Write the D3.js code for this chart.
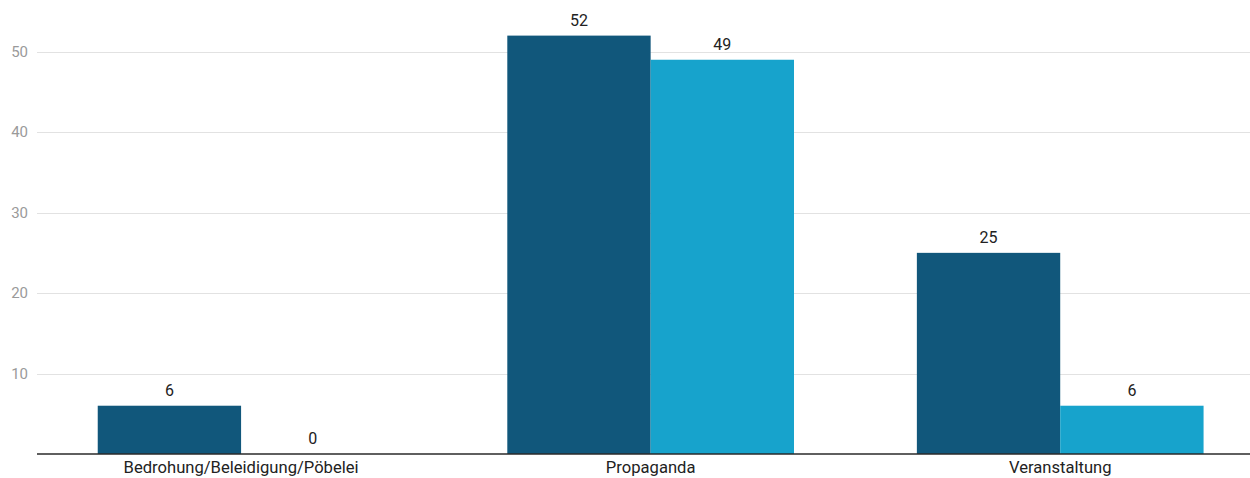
<!DOCTYPE html>
<html><head><meta charset="utf-8">
<script src="https://cdn.jsdelivr.net/npm/d3@7"></script>
<style>body{margin:0;background:#fff}svg{display:block}</style>
</head><body>
<svg id="c" width="1250" height="478"></svg>
<script>
const categories = ["Bedrohung/Beleidigung/Pöbelei", "Propaganda", "Veranstaltung"];
const seriesNames = ["A", "B"];
const seriesA = [6, 52, 25];
const seriesB = [0, 49, 6];
const yTicks = [10, 20, 30, 40, 50];
const colors = ["#11577b", "#17a3cc"];

const svg = d3.select("#c");
const W = 1250, H = 478;
const y = d3.scaleLinear().domain([0, 50]).range([454, 51.7]);
const x0 = d3.scaleBand().domain(categories).range([36.3, 1265]).paddingInner(0.3).paddingOuter(0.15);
const x1 = d3.scaleBand().domain(seriesNames).range([0, x0.bandwidth()]);

const data = categories.map((c, i) => ({cat: c, vals: [seriesA[i], seriesB[i]]}));

// grid
svg.append("g").selectAll("line").data(yTicks).join("line")
  .attr("x1", 37).attr("x2", W)
  .attr("y1", d => Math.round(y(d)) + 0.5).attr("y2", d => Math.round(y(d)) + 0.5)
  .attr("stroke", "#e2e2e2").attr("stroke-width", 1);

const yAxis = svg.append("g").attr("transform", "translate(37,0)")
  .call(d3.axisLeft(y).tickValues(yTicks).tickSize(0).tickPadding(9));
yAxis.select(".domain").remove();
yAxis.selectAll("text").attr("font-family", "Roboto").attr("font-size", 15).attr("fill", "#9a9a9a");

// bars
const g = svg.append("g").selectAll("g").data(data).join("g")
  .attr("transform", d => `translate(${x0(d.cat)},0)`);
g.selectAll("rect").data(d => d.vals.map((v, i) => ({s: seriesNames[i], v, i}))).join("rect")
  .attr("x", d => x1(d.s)).attr("width", x1.bandwidth())
  .attr("y", d => y(d.v)).attr("height", d => y(0) - y(d.v))
  .attr("fill", d => colors[d.i]);
g.selectAll("text").data(d => d.vals.map((v, i) => ({s: seriesNames[i], v, i}))).join("text")
  .attr("x", d => x1(d.s) + x1.bandwidth() / 2).attr("y", d => y(d.v) - 10)
  .attr("text-anchor", "middle").attr("font-family", "Roboto").attr("font-size", 16)
  .attr("fill", "#222").text(d => d.v);

// baseline
svg.append("line").attr("x1", 37).attr("x2", W).attr("y1", y(0)).attr("y2", y(0))
  .attr("stroke", "#2a2a2a").attr("stroke-width", 1.6);

// x axis labels
const xAxis = svg.append("g").attr("transform", `translate(0,${y(0)})`)
  .call(d3.axisBottom(x0).tickSize(0).tickPadding(7.5));
xAxis.select(".domain").remove();
xAxis.selectAll("text").attr("font-family", "Roboto").attr("font-size", 16.6).attr("fill", "#222");
</script>
</body></html>
